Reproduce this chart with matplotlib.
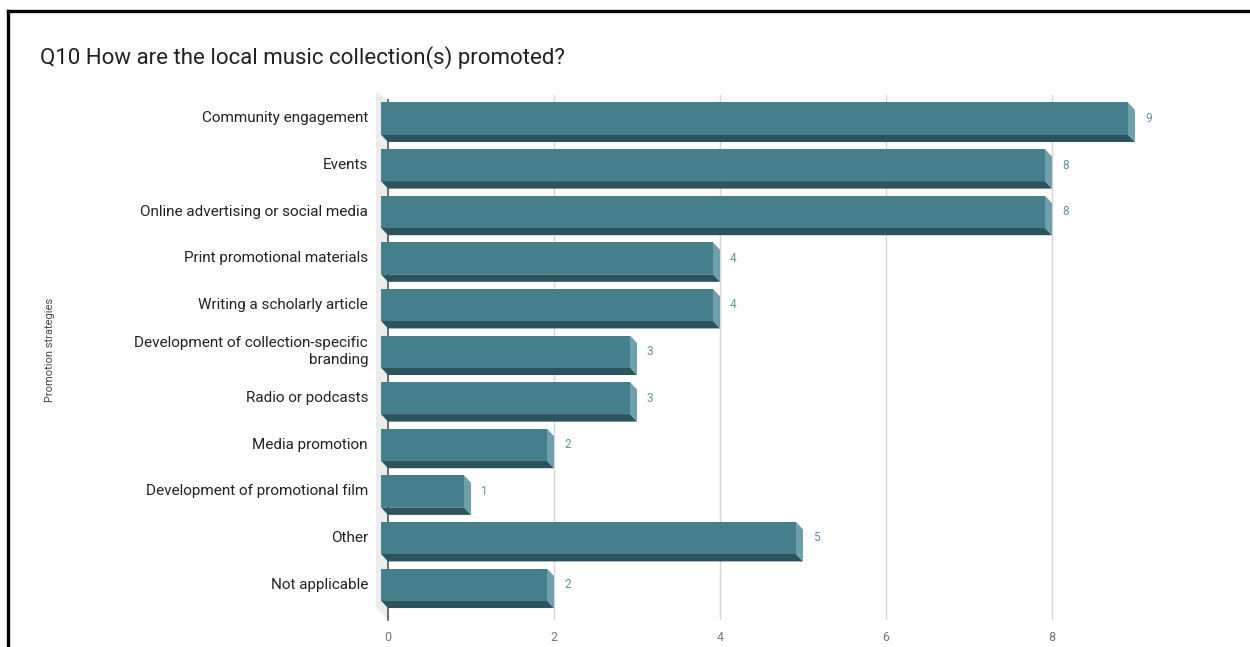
import matplotlib
matplotlib.use("Agg")
import matplotlib.pyplot as plt
from matplotlib.patches import Polygon
from matplotlib.lines import Line2D
from matplotlib.transforms import IdentityTransform

plt.rcParams['font.family'] = ['Roboto', 'DejaVu Sans']

categories = [
    "Community engagement",
    "Events",
    "Online advertising or social media",
    "Print promotional materials",
    "Writing a scholarly article",
    "Development of collection-specific\nbranding",
    "Radio or podcasts",
    "Media promotion",
    "Development of promotional film",
    "Other",
    "Not applicable",
]
counts = [9, 8, 8, 4, 4, 3, 3, 2, 1, 5, 2]
x_ticks = [0, 2, 4, 6, 8]

title = "Q10 How are the local music collection(s) promoted?"
y_label = "Promotion strategies"

FRONT = "#467F8C"
BOTTOM = "#2D535C"
SIDE = "#6E9FAB"
WALL = "#ECECEC"
VALUE_COLOR = "#5E92A6"

W, H, DPI = 1250, 647, 100
fig = plt.figure(figsize=(W / DPI, H / DPI), dpi=DPI)
fig.patch.set_facecolor("white")

# axes in pixel geometry
ax_left, ax_right, ax_top, ax_bottom = 388, 1218, 95, 620
ax = fig.add_axes([ax_left / W, 1 - ax_bottom / H,
                   (ax_right - ax_left) / W, (ax_bottom - ax_top) / H])
n = len(categories)
ax.set_xlim(0, 10)
ax.set_ylim(n - 0.4, -0.665)
for s in ax.spines.values():
    s.set_visible(False)
ax.set_yticks([])
ax.set_xticks(x_ticks)
ax.set_xticklabels([str(t) for t in x_ticks], color="#757575", fontsize=9)
ax.tick_params(axis="x", length=0, pad=8)
for t in x_ticks[1:]:
    ax.axvline(t, color="#D6D6D6", lw=1, zorder=0)

fig.canvas.draw()
tr = ax.transData
dx, dy = -7.0, 7.5      # depth offset of the front faces, pixels
bar_h = 0.687

# side wall and axis line
p_top = tr.transform((0, ax.get_ylim()[1]))
p_bot = tr.transform((0, ax.get_ylim()[0]))
wall = Polygon([(p_top[0] - 12, p_top[1] + 3), (p_top[0], p_top[1] - 5),
                (p_bot[0], p_bot[1]), (p_bot[0] - 12, p_bot[1] + 13)],
               closed=True, transform=IdentityTransform(), facecolor=WALL,
               edgecolor="none", zorder=1)
fig.add_artist(wall)
fig.add_artist(Line2D([p_top[0], p_bot[0]], [p_top[1] - 5, p_bot[1]],
                      transform=IdentityTransform(), color="#555555", lw=1.2,
                      zorder=2))


def shift(p):
    return (p[0] + dx, p[1] + dy)


for i, (cat, v) in enumerate(zip(categories, counts)):
    top = i - bar_h / 2
    bot = i + bar_h / 2
    a = tr.transform((0, top))
    b = tr.transform((v, top))
    c = tr.transform((v, bot))
    d = tr.transform((0, bot))
    faces = [
        ([shift(d), shift(c), c, d], BOTTOM),
        ([shift(b), b, c, shift(c)], SIDE),
        ([shift(a), shift(b), shift(c), shift(d)], FRONT),
    ]
    for pts, col in faces:
        fig.add_artist(Polygon(pts, closed=True, transform=IdentityTransform(),
                               facecolor=col, edgecolor="none", zorder=3))
    cy = (a[1] + d[1]) / 2 + dy
    fig.text((b[0] + 10) / W, cy / H, str(v), color=VALUE_COLOR, fontsize=8.5,
             ha="left", va="center", zorder=4)
    fig.text((a[0] - 20) / W, cy / H, cat, color="#222222", fontsize=11,
             ha="right", va="center", multialignment="right",
             linespacing=1.2)

fig.text(50 / W, 1 - 350 / H, y_label, rotation=90, color="#444444",
         fontsize=8, ha="center", va="center")

fig.text(40 / W, 1 - 58 / H, title, color="#212121", fontsize=16,
         ha="left", va="center")

# outer frame
fig.add_artist(Line2D([8 / W, 1], [1 - 11 / H, 1 - 11 / H],
                      transform=fig.transFigure, color="black", lw=2.4))
fig.add_artist(Line2D([8 / W, 8 / W], [1 - 11 / H, 0],
                      transform=fig.transFigure, color="black", lw=2.4))

fig.savefig("out.png", dpi=DPI)
